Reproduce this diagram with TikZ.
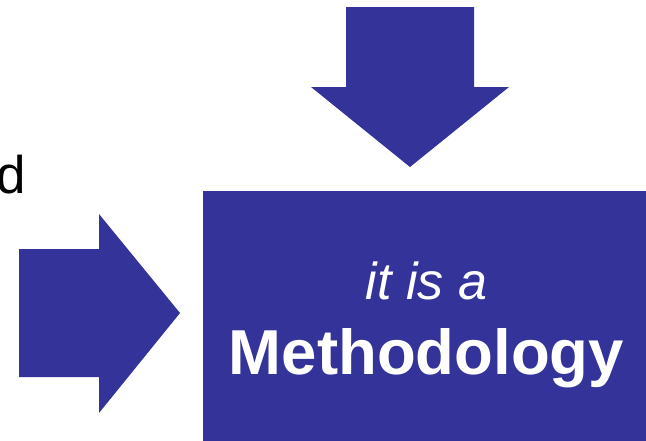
\documentclass[tikz,border=0pt]{standalone}
\usepackage{fontspec}
\setmainfont{Liberation Sans}
\definecolor{navy}{HTML}{333399}
\begin{document}
\begin{tikzpicture}[x=1pt,y=-1pt,
  blk/.style={fill=navy,draw=none},
  wtxt/.style={text=white,inner sep=0pt}]
\useasboundingbox (0,0) rectangle (646,440);
\begin{scope}
\clip (0,0) rectangle (646,440);
% main box
\node[blk,minimum width=447pt,minimum height=252pt,anchor=north west,inner sep=0pt] (box) at (203,191) {};
\node[wtxt,anchor=base,font=\fontsize{52}{60}\selectfont\itshape] (l1) at (426.5,299) {it is a};
\node[wtxt,anchor=base,font=\fontsize{63.5}{70}\selectfont\bfseries] (l2) at (426.5,374) {Methodology};
% down arrow
\fill[navy] (346,7) -- (474,7) -- (474,87) -- (509,87) -- (410,167) -- (311,87) -- (346,87) -- cycle;
% right arrow
\fill[navy] (19,249) -- (99,249) -- (99,214) -- (180,313) -- (99,413) -- (99,377) -- (19,377) -- cycle;
% cropped text
\node[inner sep=0pt,anchor=base east,font=\fontsize{53}{60}\selectfont] (d) at (26,193) {d};
\end{scope}
\end{tikzpicture}
\end{document}
